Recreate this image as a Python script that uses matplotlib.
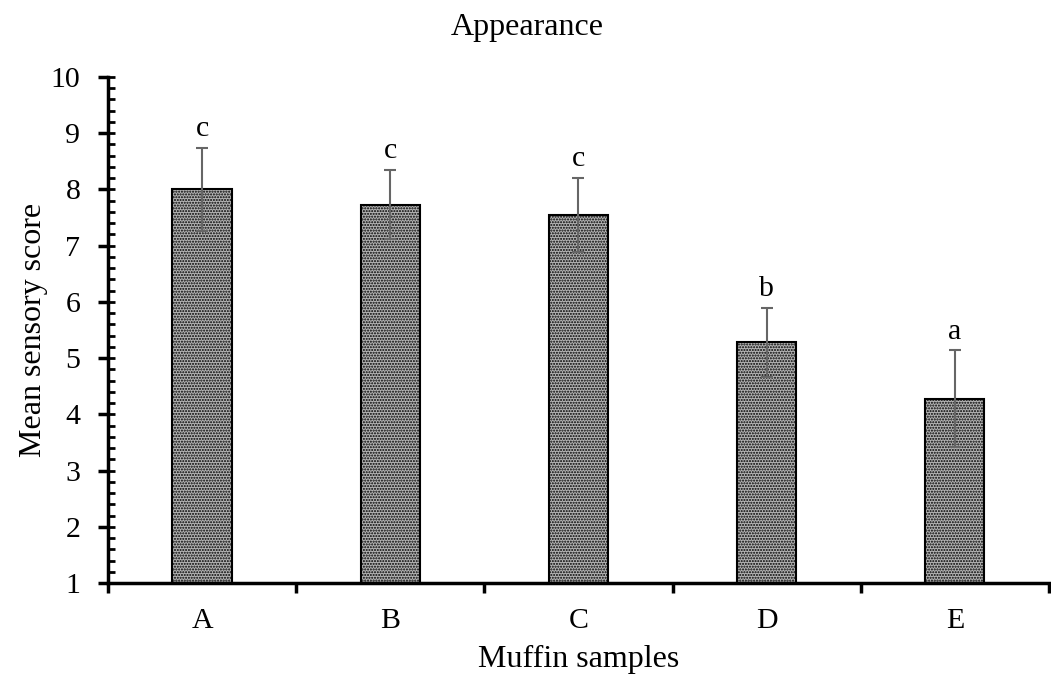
import matplotlib.pyplot as plt
from matplotlib.ticker import MultipleLocator, FixedLocator

samples = ["A", "B", "C", "D", "E"]
means = [8.00, 7.73, 7.55, 5.28, 4.28]
sds = [0.74, 0.62, 0.66, 0.61, 0.86]
letters = ["c", "c", "c", "b", "a"]

plt.rcParams["font.family"] = ["Liberation Serif", "DejaVu Serif"]
plt.rcParams["hatch.linewidth"] = 1.0

fig = plt.figure(figsize=(10.51, 6.8), dpi=100)
ax = fig.add_axes([0.1028, 0.1426, 0.8952, 0.7442])

x = list(range(len(samples)))
ax.bar(x, [m - 1 for m in means], bottom=1, width=0.315, color="#b4b4b4",
       edgecolor="black", linewidth=1.5, hatch="......", zorder=2)
ax.errorbar(x, means, yerr=sds, fmt="none", ecolor="#666666", elinewidth=1.5,
            capsize=4.3, capthick=1.5, zorder=3)
for xi, m, s, lab in zip(x, means, sds, letters):
    ax.text(xi, m + s + 0.1, lab, ha="center", va="bottom", fontsize=21.5)

ax.set_xlim(-0.5, len(samples) - 0.5)
ax.set_ylim(1, 10)
ax.xaxis.set_major_locator(FixedLocator([i - 0.5 for i in range(len(samples) + 1)]))
ax.set_xticklabels([""] * (len(samples) + 1))
ax.set_xticks(x, samples, minor=True)
ax.yaxis.set_major_locator(MultipleLocator(1))
ax.yaxis.set_minor_locator(MultipleLocator(0.2))
ax.yaxis.remove_overlapping_locs = False

for side in ["top", "right"]:
    ax.spines[side].set_visible(False)
ax.spines["left"].set_linewidth(2.5)
ax.spines["bottom"].set_linewidth(2.5)

ax.tick_params(axis="y", which="major", direction="out", length=7, width=2.5,
               labelsize=21.5, pad=13)
ax.tick_params(axis="y", which="minor", direction="in", length=5, width=2)
ax.tick_params(axis="x", which="major", direction="out", length=7, width=2.5)
ax.tick_params(axis="x", which="minor", direction="in", length=5, width=2,
               labelsize=21.5, pad=18)

ax.set_ylabel("Mean sensory score", fontsize=23, labelpad=2)
ax.set_xlabel("Muffin samples", fontsize=23, labelpad=8)
fig.text(0.5015, 0.9485, "Appearance", ha="center", va="baseline", fontsize=23)

fig.savefig("out.png", dpi=100)
